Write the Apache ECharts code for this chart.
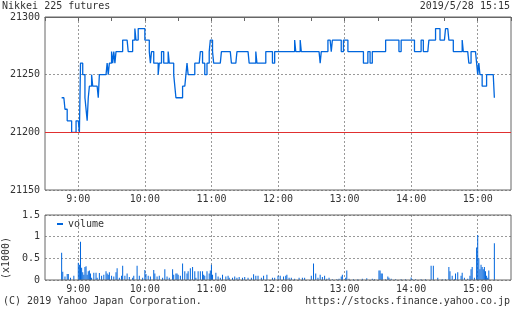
<!DOCTYPE html>
<html><head><meta charset="utf-8">
<script src="https://cdn.jsdelivr.net/npm/echarts@6/dist/echarts.min.js"></script>
<style>html,body{margin:0;padding:0;background:#fff}#c{width:512px;height:310px}</style>
</head><body><div id="c"></div><script>
const titleText = 'Nikkei 225 futures';
const stampText = '2019/5/28 15:15';
const copyText = '(C) 2019 Yahoo Japan Corporation.';
const urlText = 'https://stocks.finance.yahoo.co.jp';
const unitText = '(x1000)';
const legendName = 'volume';

const axisStart = [8, 30];   // 8:30
const axisEnd = [15, 30];    // 15:30
const sessionStart = '8:45';
const prevClose = 21200;

const priceMin = 21150, priceMax = 21300, priceStep = 50;
const volMin = 0, volMax = 1.5, volStep = 0.5;

// one value per minute, 8:45 .. 15:15
const price = [
21230,21230,21230,21220,21220,21210,21210,21210,21210,21200,
21200,21200,21200,21210,21210,21210,21200,21260,21260,21250,
21250,21230,21220,21210,21230,21240,21240,21250,21240,21240,
21240,21240,21240,21230,21250,21250,21250,21250,21250,21250,
21250,21260,21250,21260,21260,21270,21260,21270,21260,21270,
21270,21270,21270,21270,21270,21280,21280,21280,21280,21280,
21270,21270,21270,21270,21280,21280,21290,21280,21280,21290,
21290,21290,21290,21290,21290,21280,21280,21280,21280,21270,
21260,21270,21270,21260,21260,21260,21260,21250,21260,21260,
21270,21270,21260,21260,21260,21260,21270,21260,21260,21260,
21260,21250,21240,21230,21230,21230,21230,21230,21230,21240,
21240,21240,21250,21260,21250,21250,21250,21250,21250,21250,
21260,21260,21260,21260,21260,21270,21270,21260,21260,21250,
21250,21260,21260,21270,21280,21280,21270,21260,21260,21260,
21260,21260,21260,21260,21270,21270,21270,21270,21270,21270,
21270,21270,21270,21260,21260,21260,21260,21260,21270,21270,
21270,21270,21270,21270,21270,21270,21270,21270,21270,21260,
21260,21260,21260,21260,21260,21270,21260,21260,21260,21260,
21260,21260,21260,21260,21270,21270,21270,21270,21270,21270,
21260,21260,21270,21270,21270,21270,21270,21270,21270,21270,
21270,21270,21270,21270,21270,21270,21270,21270,21270,21270,
21280,21270,21270,21270,21270,21280,21270,21270,21270,21270,
21270,21270,21270,21270,21270,21270,21270,21270,21270,21270,
21270,21270,21270,21260,21270,21270,21270,21270,21270,21270,
21280,21280,21280,21270,21280,21280,21280,21280,21280,21280,
21280,21280,21270,21270,21280,21280,21280,21280,21270,21270,
21270,21270,21270,21270,21270,21270,21270,21270,21270,21270,
21270,21270,21260,21260,21260,21260,21270,21270,21260,21260,
21270,21270,21270,21270,21270,21270,21270,21270,21270,21270,
21270,21270,21280,21280,21280,21280,21280,21280,21280,21280,
21280,21280,21280,21280,21270,21270,21280,21280,21280,21280,
21280,21280,21280,21280,21280,21280,21280,21280,21270,21270,
21270,21270,21270,21270,21280,21280,21270,21270,21270,21270,
21270,21280,21280,21280,21280,21280,21280,21290,21290,21290,
21290,21280,21280,21280,21280,21280,21290,21290,21290,21280,
21280,21280,21280,21270,21270,21270,21270,21270,21270,21270,
21270,21280,21270,21270,21270,21270,21270,21260,21260,21270,
21270,21270,21270,21270,21260,21250,21260,21250,21250,21240,
21240,21240,21240,21250,21250,21250,21250,21250,21250,21250,
21230
];

// volume bars: minute offset from 8:45, and value (x1000)
const volMinute = [0,1,3,5,6,8,11,15,16,17,18,19,20,21,22,23,24,25,26,27,29,31,32,34,36,38,40,41,42,43,45,47,49,50,52,54,55,57,59,61,64,65,68,70,73,75,76,78,80,83,84,86,88,91,93,95,97,100,101,103,104,105,107,109,111,113,114,116,118,120,121,123,125,127,128,129,131,133,134,135,136,139,141,143,145,148,150,151,154,156,158,160,163,165,168,171,173,175,177,180,182,185,190,192,195,197,200,202,203,205,207,210,214,217,219,225,227,229,231,233,235,237,239,241,244,248,250,252,253,256,257,259,263,267,271,275,280,282,286,287,288,289,292,294,295,297,301,306,310,315,316,319,324,328,333,335,339,343,346,349,350,352,354,355,357,360,361,363,366,368,369,370,372,374,375,376,377,378,379,380,381,382,383,384,385,390];
const volValue = [0.63,0.19,0.08,0.14,0.14,0.05,0.1,0.4,0.35,0.88,0.28,0.18,0.12,0.3,0.32,0.12,0.2,0.22,0.15,0.05,0.17,0.17,0.05,0.16,0.1,0.12,0.2,0.15,0.12,0.18,0.1,0.08,0.18,0.27,0.05,0.1,0.33,0.1,0.15,0.07,0.05,0.1,0.33,0.1,0.05,0.23,0.14,0.1,0.08,0.23,0.15,0.08,0.1,0.05,0.25,0.08,0.05,0.25,0.12,0.15,0.15,0.12,0.1,0.38,0.2,0.15,0.2,0.27,0.3,0.2,0.05,0.2,0.2,0.2,0.12,0.1,0.2,0.15,0.22,0.35,0.12,0.17,0.08,0.05,0.12,0.08,0.1,0.05,0.05,0.08,0.05,0.07,0.05,0.07,0.05,0.05,0.13,0.1,0.1,0.05,0.1,0.12,0.05,0.05,0.1,0.1,0.08,0.1,0.12,0.05,0.05,0.03,0.05,0.05,0.05,0.1,0.38,0.15,0.05,0.12,0.07,0.1,0.03,0.05,0.02,0.02,0.03,0.08,0.12,0.05,0.22,0.03,0.02,0.02,0.03,0.04,0.03,0.02,0.22,0.22,0.15,0.15,0.02,0.08,0.05,0.03,0.02,0.02,0.02,0.06,0.02,0.02,0.02,0.02,0.33,0.33,0.05,0.02,0.02,0.3,0.2,0.1,0.02,0.15,0.18,0.1,0.17,0.05,0.03,0.1,0.25,0.3,0.05,0.75,1.04,0.5,0.25,0.35,0.3,0.25,0.3,0.2,0.1,0.05,0.22,0.85];

// time categories, one per minute
const cats = [];
for (let t = axisStart[0]*60 + axisStart[1]; t <= axisEnd[0]*60 + axisEnd[1]; t++) {
  cats.push(Math.floor(t/60) + ':' + String(t%60).padStart(2,'0'));
}
const base = cats.indexOf(sessionStart);
const isHour = (i) => cats[i].endsWith(':00');
const isHalf = (i) => cats[i].endsWith(':00') || cats[i].endsWith(':30');

const FONT = 'DejaVu Sans Mono';
const TXT = '#333';
const BLUE = '#0066dd';
const GRIDC = '#999';
const BORDER = '#666';

const chart = echarts.init(document.getElementById('c'), null, {renderer: 'canvas'});
const xLab = {interval: (i) => isHour(i), fontSize: 10, fontFamily: FONT, color: TXT, margin: 4, hideOverlap: false};
const xSplit = {show: true, interval: (i) => isHour(i), lineStyle: {color: GRIDC, type: [2, 2], width: 1}};
const yLab = {fontSize: 10, fontFamily: FONT, color: TXT, margin: 5, formatter: (v) => String(v)};

chart.setOption({
  animation: false,
  grid: [
    {left: 45, top: 17, width: 466, height: 173, show: true, borderColor: BORDER, borderWidth: 1, z: 3},
    {left: 45, top: 215, width: 466, height: 65, show: true, borderColor: BORDER, borderWidth: 1, z: 3}
  ],
  legend: {
    data: [legendName], left: 57, top: 219, padding: 0, icon: 'rect', itemWidth: 6, itemHeight: 2,
    textStyle: {fontSize: 10, fontFamily: FONT, color: TXT}, selectedMode: false
  },
  xAxis: [
    {gridIndex: 0, type: 'category', data: cats, boundaryGap: false, position: 'bottom',
     axisLine: {show: false}, axisTick: {show: false}, axisLabel: xLab, splitLine: xSplit},
    {gridIndex: 0, type: 'category', data: cats, boundaryGap: false, position: 'top',
     axisLine: {show: true, lineStyle: {color: BORDER}}, axisLabel: {show: false}, splitLine: {show: false},
     axisTick: {show: true, inside: true, length: 4, interval: (i) => isHalf(i), lineStyle: {color: BORDER}}},
    {gridIndex: 1, type: 'category', data: cats, boundaryGap: false, position: 'bottom',
     axisLine: {show: false}, axisTick: {show: false}, axisLabel: xLab, splitLine: xSplit}
  ],
  yAxis: [
    {gridIndex: 0, type: 'value', min: priceMin, max: priceMax, interval: priceStep,
     axisLine: {show: false}, axisTick: {show: false}, axisLabel: yLab,
     splitLine: {lineStyle: {color: GRIDC, type: [2, 2]}}},
    {gridIndex: 1, type: 'value', min: volMin, max: volMax, interval: volStep,
     axisLine: {show: false}, axisTick: {show: false}, axisLabel: yLab,
     splitLine: {lineStyle: {color: GRIDC, type: [2, 2]}}}
  ],
  series: [
    {name: 'price', type: 'line', xAxisIndex: 0, yAxisIndex: 0, step: 'end', showSymbol: false,
     sampling: null, lineStyle: {color: BLUE, width: 1.3}, itemStyle: {color: BLUE},
     data: price.map((v, i) => [cats[base + i], v]),
     markLine: {silent: true, symbol: ['none', 'none'], label: {show: false},
       lineStyle: {color: '#e03030', type: 'solid', width: 1}, data: [{yAxis: prevClose}]}},
    {name: legendName, type: 'bar', xAxisIndex: 2, yAxisIndex: 1, barWidth: 1,
     itemStyle: {color: BLUE},
     data: volMinute.map((m, i) => [cats[base + m], volValue[i]])}
  ],
  graphic: [
    {type: 'text', left: 2, top: 1, style: {text: titleText, font: '10px ' + FONT, fill: TXT}},
    {type: 'text', right: 2, top: 1, style: {text: stampText, font: '10px ' + FONT, fill: TXT}},
    {type: 'text', left: 3, top: 296, style: {text: copyText, font: '10px ' + FONT, fill: TXT}},
    {type: 'text', right: 2, top: 296, style: {text: urlText, font: '10px ' + FONT, fill: TXT}},
    {type: 'text', x: 1, y: 279, rotation: Math.PI / 2, style: {text: unitText, font: '10px ' + FONT, fill: TXT, textVerticalAlign: 'top'}}
  ]
});
</script></body></html>
